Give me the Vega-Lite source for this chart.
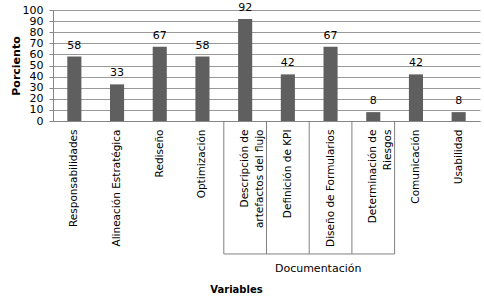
{
  "$schema": "https://vega.github.io/schema/vega-lite/v6.json",
  "autosize": "none",
  "width": 427,
  "height": 111,
  "padding": {"left": 53, "top": 10, "right": 4, "bottom": 177},
  "background": "white",
  "config": {
    "view": {"stroke": null},
    "font": "DejaVu Sans",
    "axis": {"labelOverlap": false, "labelSeparation": -8, "gridColor": "#999999", "gridOpacity": 1, "gridWidth": 1, "domainColor": "#868686", "tickColor": "#868686", "labelColor": "#000", "titleColor": "#000"},
    "axisY": {"grid": true, "labelOverlap": false, "labelSeparation": -8}
  },
  "data": {
    "values": [
      {"variable": "Responsabilidades", "valor": 58, "grupo": null},
      {"variable": "Alineación Estratégica", "valor": 33, "grupo": null},
      {"variable": "Rediseño", "valor": 67, "grupo": null},
      {"variable": "Optimización", "valor": 58, "grupo": null},
      {"variable": "Descripción de\nartefactos del flujo", "valor": 92, "grupo": "Documentación"},
      {"variable": "Definición de KPI", "valor": 42, "grupo": "Documentación"},
      {"variable": "Diseño de Formularios", "valor": 67, "grupo": "Documentación"},
      {"variable": "Determinación de\nRiesgos", "valor": 8, "grupo": "Documentación"},
      {"variable": "Comunicación", "valor": 42, "grupo": null},
      {"variable": "Usabilidad", "valor": 8, "grupo": null}
    ]
  },
  "resolve": {"scale": {"y": "independent"}, "axis": {"y": "independent"}},
  "layer": [
    {
      "layer": [
        {
          "mark": {"type": "bar", "color": "#5f5f5f", "width": {"band": 0.33}},
          "encoding": {
            "x": {
              "field": "variable", "type": "nominal", "sort": null,
              "scale": {"paddingInner": 0, "paddingOuter": 0},
              "axis": {
                "title": "Variables",
                "titleFontSize": 10, "titleFontWeight": "bold",
                "titleX": 183, "titleY": 168, "titleBaseline": "middle", "titleAlign": "center",
                "labelAngle": -90, "labelAlign": "right", "labelBaseline": "middle",
                "labelPadding": 8, "labelFontSize": 10.5,
                "labelExpr": "split(datum.label, '\\n')", "labelLineHeight": 15,
                "labelLimit": 0, "ticks": false, "grid": false
              }
            },
            "y": {
              "field": "valor", "type": "quantitative",
              "scale": {"domain": [0, 100], "nice": false},
              "axis": {
                "title": "Porciento",
                "titleFontSize": 11, "titleFontWeight": "bold",
                "titleX": -37, "titleY": 55.5, "titleAngle": -90, "titleBaseline": "middle", "titleAlign": "center",
                "values": [0, 10, 20, 30, 40, 50, 60, 70, 80, 90, 100],
                "tickCount": 11,
                "grid": true,
                "labelOverlap": false, "labelSeparation": -8, "labelFontSize": 11, "labelPadding": 6,
                "tickSize": 4
              }
            }
          }
        },
        {
          "mark": {"type": "text", "fontSize": 11, "color": "#000", "baseline": "alphabetic", "dy": -8},
          "encoding": {
            "x": {"field": "variable", "type": "nominal", "sort": null},
            "y": {"field": "valor", "type": "quantitative"},
            "text": {"field": "valor", "type": "quantitative"}
          }
        }
      ]
    },
    {
      "transform": [{"filter": "datum.grupo == 'Documentación'"}],
      "layer": [
        {
          "mark": {"type": "rule", "color": "#808080"},
          "encoding": {
            "x": {"field": "variable", "type": "nominal", "sort": null, "bandPosition": 0},
            "y": {"datum": 0, "type": "quantitative", "scale": {"domain": [0, 100], "nice": false, "zero": false}, "axis": null},
            "y2": {"datum": -119.8}
          }
        },
        {
          "transform": [{"filter": "datum.variable == 'Determinación de\\nRiesgos'"}],
          "mark": {"type": "rule", "color": "#808080"},
          "encoding": {
            "x": {"field": "variable", "type": "nominal", "sort": null, "bandPosition": 1},
            "y": {"datum": 0, "type": "quantitative"},
            "y2": {"datum": -119.8}
          }
        },
        {
          "mark": {"type": "rule", "color": "#808080"},
          "encoding": {
            "x": {"field": "variable", "type": "nominal", "sort": null, "bandPosition": 0},
            "x2": {"field": "variable", "bandPosition": 1},
            "y": {"datum": -119.8, "type": "quantitative"}
          }
        },
        {
          "transform": [{"filter": "datum.variable == 'Diseño de Formularios'"}],
          "mark": {"type": "text", "fontSize": 11, "color": "#000", "baseline": "middle", "align": "center", "dx": 9},
          "encoding": {
            "x": {"field": "variable", "type": "nominal", "sort": null, "bandPosition": 0},
            "y": {"datum": -133.3, "type": "quantitative"},
            "text": {"field": "grupo"}
          }
        }
      ]
    }
  ]
}
